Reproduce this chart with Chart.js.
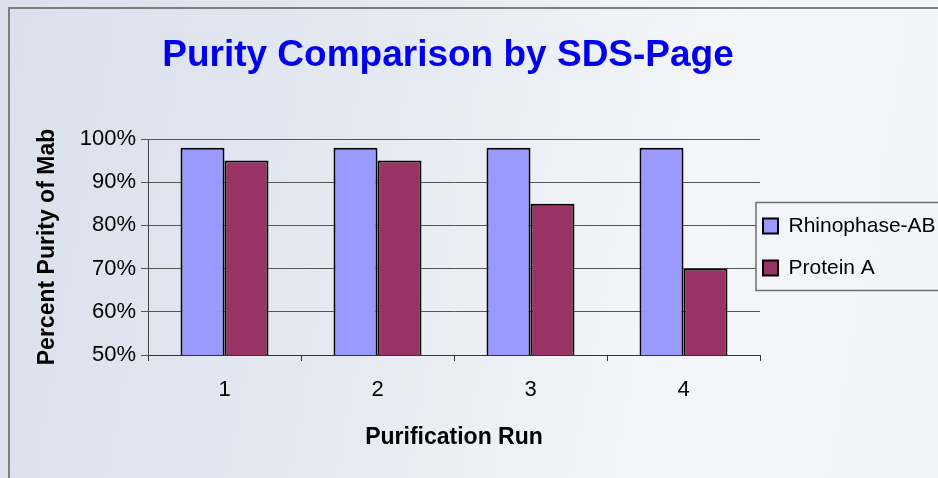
<!DOCTYPE html>
<html>
<head>
<meta charset="utf-8">
<script src="https://cdn.jsdelivr.net/npm/chart.js@4/dist/chart.umd.min.js"></script>
<style>
  html, body { margin: 0; padding: 0; width: 938px; height: 478px; overflow: hidden; }
  body { background: linear-gradient(100deg, #dae1ed 0%, #e3e8f1 35%, #f3f5f9 70%, #f2f4f8 100%); position: relative; }
  #frame { position: absolute; left: 8px; top: 7px; width: 2000px; height: 2000px; border: 2px solid #7d7d7d; box-sizing: border-box; }
  #wrap { position: absolute; left: 0; top: 0; width: 960px; height: 478px; }
</style>
</head>
<body>
<div id="frame"></div>
<div id="wrap"><canvas id="c"></canvas></div>
<script>
const categories = ['1', '2', '3', '4'];
const rhinophaseAB = [98, 98, 98, 98];
const proteinA = [95, 95, 85, 70];
const seriesNames = ['Rhinophase-AB', 'Protein A'];
const titleText = 'Purity Comparison by SDS-Page';
const xTitle = 'Purification Run';
const yTitle = 'Percent Purity of Mab';

const FONT = "'Liberation Sans', Arial, sans-serif";

const layoutTweak = {
  id: 'layoutTweak',
  afterLayout(chart) {
    const lg = chart.legend;
    if (lg) { const dx = -18; lg.left += dx; lg.right += dx; }
    const tb = chart.titleBlock;
    if (tb) { tb.left -= 6; tb.right -= 6; }
  },
  beforeDatasetsDraw(chart) {
    const lg = chart.legend;
    if (!lg || !lg.legendHitBoxes || !lg.legendHitBoxes.length) return;
    const hb = lg.legendHitBoxes;
    const top = hb[0].top - 13;
    const bottom = hb[hb.length - 1].top + hb[hb.length - 1].height + 12;
    const left = hb[0].left - 7;
    const ctx = chart.ctx;
    ctx.save();
    ctx.fillStyle = '#f3f5f9';
    ctx.fillRect(left, top, chart.chartArea.right - left + 1, bottom - top);
    ctx.strokeStyle = '#6e6e6e';
    ctx.lineWidth = 1.5;
    ctx.strokeRect(left, top, chart.width + 20 - left, bottom - top);
    ctx.restore();
  }
};

new Chart(document.getElementById('c'), {
  type: 'bar',
  data: {
    labels: categories,
    datasets: [
      { label: seriesNames[0], data: rhinophaseAB, backgroundColor: '#9999ff', borderColor: '#000000', borderWidth: 2 },
      { label: seriesNames[1], data: proteinA, backgroundColor: '#993366', borderColor: '#000000', borderWidth: 2 }
    ]
  },
  options: {
    responsive: true,
    maintainAspectRatio: false,
    animation: false,
    devicePixelRatio: 1,
    categoryPercentage: 0.575,
    barPercentage: 1.0,
    layout: { padding: 0 },
    plugins: {
      title: {
        display: true,
        text: titleText,
        fullSize: false,
        color: '#0000ee',
        font: { family: FONT, size: 37, weight: 'bold' },
        padding: { top: 34, bottom: 60.6 }
      },
      legend: {
        display: true,
        position: 'right',
        fullSize: false,
        align: 'center',
        maxWidth: 200,
        labels: {
          color: '#000',
          boxWidth: 15,
          boxHeight: 15,
          padding: 21,
          font: { family: FONT, size: 21 }
        }
      },
      tooltip: { enabled: false }
    },
    scales: {
      x: {
        grid: { display: true, drawOnChartArea: false, drawTicks: true, tickLength: 6, color: '#333', offset: true },
        border: { display: true, color: '#333', width: 1 },
        ticks: { color: '#000', padding: 16, font: { family: FONT, size: 22 } },
        title: { display: true, text: xTitle, color: '#000', font: { family: FONT, size: 23, weight: 'bold' }, padding: { top: 0, bottom: 27 } },
        afterFit(scale) { scale.height = 123; }
      },
      y: {
        min: 50,
        max: 100,
        grid: { color: '#555', tickLength: 7, lineWidth: 1 },
        border: { display: true, color: '#444', width: 1 },
        ticks: { stepSize: 10, color: '#000', padding: 5, font: { family: FONT, size: 22 }, callback: (v) => v + '%' },
        title: { display: true, text: yTitle, color: '#000', font: { family: FONT, size: 23, weight: 'bold' }, padding: { top: 34, bottom: 0 } },
        afterFit(scale) { scale.width = 148; }
      }
    }
  },
  plugins: [layoutTweak]
});
</script>
</body>
</html>
